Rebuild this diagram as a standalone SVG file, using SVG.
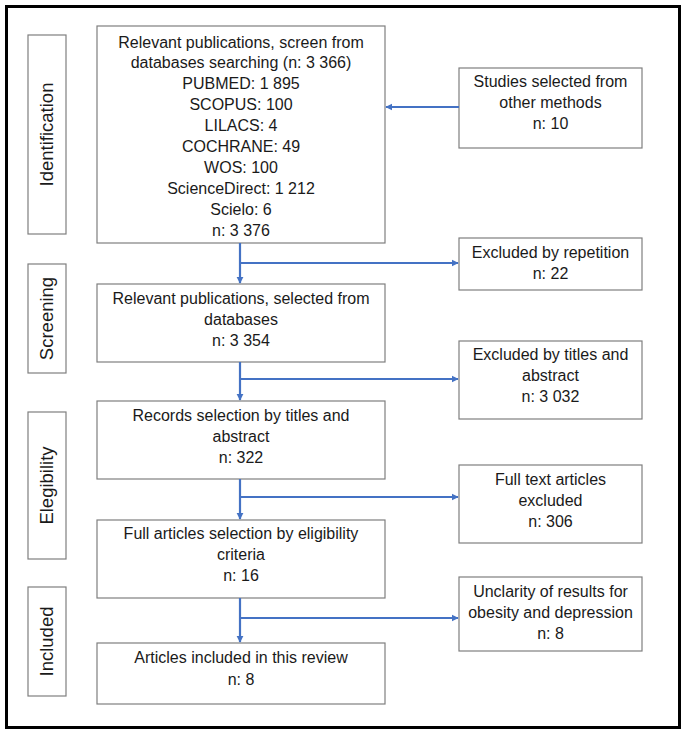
<svg xmlns="http://www.w3.org/2000/svg" width="687" height="735" viewBox="0 0 687 735">
<defs>
<marker id="ah" viewBox="0 0 10 10" refX="9" refY="5" markerWidth="3.2" markerHeight="3.2" orient="auto" markerUnits="strokeWidth">
<path d="M0,0 L10,5 L0,10 z" fill="#4472C4"/>
</marker>
</defs>
<style>
.box{fill:#fff;stroke:#7f7f7f;stroke-width:1.2}
.t{font-family:"Liberation Sans",Arial,sans-serif;font-size:16px;fill:#1a1a1a;text-anchor:middle}
.lab{font-family:"Liberation Sans",Arial,sans-serif;font-size:18.5px;fill:#1a1a1a;text-anchor:middle}
.c{stroke:#4472C4;stroke-width:2.2;fill:none}
</style>
<rect x="0" y="0" width="687" height="735" fill="#fff"/>
<rect x="6.5" y="6.5" width="673" height="721" fill="none" stroke="#000" stroke-width="3"/>

<g id="label-identification">
<rect class="box" x="28" y="35" width="38" height="199"/>
<text class="lab" transform="translate(53,134.5) rotate(-90)">Identification</text>
</g>
<g id="label-screening">
<rect class="box" x="28" y="264" width="38" height="109"/>
<text class="lab" transform="translate(53,318.5) rotate(-90)">Screening</text>
</g>
<g id="label-elegibility">
<rect class="box" x="28" y="412" width="38" height="147"/>
<text class="lab" transform="translate(53,485.5) rotate(-90)">Elegibility</text>
</g>
<g id="label-included">
<rect class="box" x="28" y="587" width="38" height="109"/>
<text class="lab" transform="translate(53,641.5) rotate(-90)">Included</text>
</g>

<g id="box-databases">
<rect class="box" x="97" y="26" width="288" height="217"/>
<text class="t" x="241" y="47.5">Relevant publications, screen from<tspan x="241" dy="20.9">databases searching (n: 3 366)</tspan><tspan x="241" dy="20.9">PUBMED: 1 895</tspan><tspan x="241" dy="20.9">SCOPUS: 100</tspan><tspan x="241" dy="20.9">LILACS: 4</tspan><tspan x="241" dy="20.9">COCHRANE: 49</tspan><tspan x="241" dy="20.9">WOS: 100</tspan><tspan x="241" dy="20.9">ScienceDirect: 1 212</tspan><tspan x="241" dy="20.9">Scielo: 6</tspan><tspan x="241" dy="20.9">n: 3 376</tspan></text>
</g>
<g id="box-other">
<rect class="box" x="459" y="68" width="183" height="80"/>
<text class="t" x="550.5" y="87">Studies selected from<tspan x="550.5" dy="21">other methods</tspan><tspan x="550.5" dy="21">n: 10</tspan></text>
</g>
<g id="box-repetition">
<rect class="box" x="459" y="238" width="183" height="52"/>
<text class="t" x="550.5" y="258">Excluded by repetition<tspan x="550.5" dy="21">n: 22</tspan></text>
</g>
<g id="box-selected">
<rect class="box" x="97" y="284" width="288" height="78"/>
<text class="t" x="241" y="304">Relevant publications, selected from<tspan x="241" dy="21">databases</tspan><tspan x="241" dy="21">n: 3 354</tspan></text>
</g>
<g id="box-excl-titles">
<rect class="box" x="459" y="341" width="183" height="78"/>
<text class="t" x="550.5" y="360">Excluded by titles and<tspan x="550.5" dy="21">abstract</tspan><tspan x="550.5" dy="21">n: 3 032</tspan></text>
</g>
<g id="box-records">
<rect class="box" x="97" y="401" width="288" height="78"/>
<text class="t" x="241" y="421">Records selection by titles and<tspan x="241" dy="21">abstract</tspan><tspan x="241" dy="21">n: 322</tspan></text>
</g>
<g id="box-fulltext-excl">
<rect class="box" x="459" y="465" width="183" height="78"/>
<text class="t" x="550.5" y="485">Full text articles<tspan x="550.5" dy="21">excluded</tspan><tspan x="550.5" dy="21">n: 306</tspan></text>
</g>
<g id="box-full">
<rect class="box" x="97" y="520" width="288" height="78"/>
<text class="t" x="241" y="539">Full articles selection by eligibility<tspan x="241" dy="21">criteria</tspan><tspan x="241" dy="21">n: 16</tspan></text>
</g>
<g id="box-unclarity">
<rect class="box" x="459" y="577" width="183" height="74"/>
<text class="t" x="550.5" y="597">Unclarity of results for<tspan x="550.5" dy="21">obesity and depression</tspan><tspan x="550.5" dy="21">n: 8</tspan></text>
</g>
<g id="box-included">
<rect class="box" x="97" y="643" width="288" height="61"/>
<text class="t" x="241" y="663">Articles included in this review<tspan x="241" dy="22">n: 8</tspan></text>
</g>

<g id="connectors">
<line class="c" x1="459" y1="107" x2="386" y2="107" marker-end="url(#ah)"/>
<line class="c" x1="240" y1="243" x2="240" y2="283" marker-end="url(#ah)"/>
<line class="c" x1="240" y1="263" x2="458" y2="263" marker-end="url(#ah)"/>
<line class="c" x1="240" y1="362" x2="240" y2="400" marker-end="url(#ah)"/>
<line class="c" x1="240" y1="379" x2="458" y2="379" marker-end="url(#ah)"/>
<line class="c" x1="240" y1="479" x2="240" y2="519" marker-end="url(#ah)"/>
<line class="c" x1="240" y1="497" x2="458" y2="497" marker-end="url(#ah)"/>
<line class="c" x1="240" y1="598" x2="240" y2="642" marker-end="url(#ah)"/>
<line class="c" x1="240" y1="618" x2="458" y2="618" marker-end="url(#ah)"/>
</g>
</svg>
